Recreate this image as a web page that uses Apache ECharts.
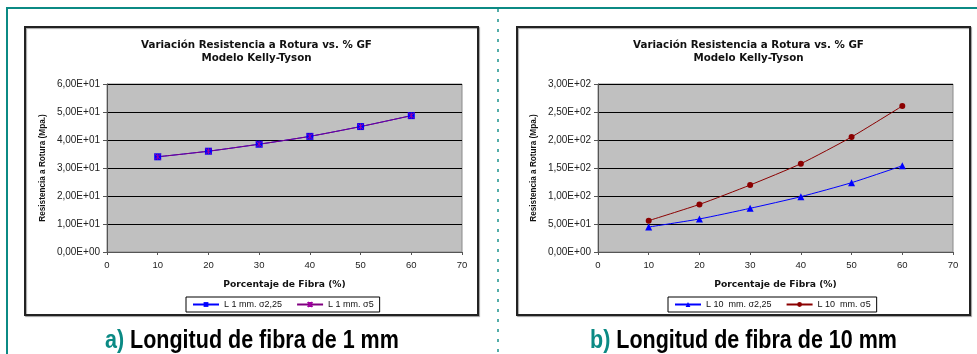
<!DOCTYPE html>
<html><head><meta charset="utf-8">
<script src="https://cdn.jsdelivr.net/npm/echarts@6/dist/echarts.min.js"></script>
<style>html,body{margin:0;padding:0;background:#fff}#c{width:977px;height:354px}</style>
</head><body><div id="c"></div>
<script>
// ---- data ----
const fiberPct = [10, 20, 30, 40, 50, 60];
const L1_s225 = [34.0, 36.0, 38.5, 41.3, 44.8, 48.7];
const L1_s5 = [34.0, 36.0, 38.5, 41.3, 44.8, 48.7];
const L10_s225 = [44.6, 59.0, 78.0, 98.8, 123.8, 154.0];
const L10_s5 = [56.0, 85.0, 119.6, 157.7, 205.4, 260.7];
const seriesNames = ['L 1 mm. σ2,25', 'L 1 mm. σ5', 'L 10  mm. σ2,25', 'L 10  mm. σ5'];
const chartTitle = 'Variación Resistencia a Rotura vs. % GF\nModelo Kelly-Tyson';
const xName = 'Porcentaje de Fibra (%)';
const yName = 'Resistencia a Rotura (Mpa.)';
const captions = [['a)', 'Longitud de fibra de 1 mm'], ['b)', 'Longitud de fibra de 10 mm']];

function sci(v) {
  if (v === 0) return '0,00E+00';
  const e = Math.floor(Math.log10(Math.abs(v)));
  const m = v / Math.pow(10, e);
  const es = (e < 0 ? '-' : '+') + String(Math.abs(e)).padStart(2, '0');
  return m.toFixed(2).replace('.', ',') + 'E' + es;
}
const pair = (arr) => arr.map((v, i) => [fiberPct[i], v]);

const TEAL = '#0b8a84';
const FONT = 'Liberation Sans, Arial, sans-serif';
const panels = [
  { boxX: 25, gridL: 107, yMax: 60, yInt: 10, capX: 105 },
  { boxX: 517, gridL: 598, yMax: 300, yInt: 50, capX: 590 }
];
const BOXW = 453, BOXY = 27, BOXH = 288;

const chart = echarts.init(document.getElementById('c'), null, { renderer: 'canvas' });

const grids = panels.map(p => ({
  left: p.gridL, top: 84, width: 355, height: 168, show: true,
  backgroundColor: '#c0c0c0', borderColor: '#8a8a8a', borderWidth: 1
}));

const xAxes = panels.map((p, i) => ({
  type: 'value', gridIndex: i, min: 0, max: 70, interval: 10,
  name: xName, nameLocation: 'middle', nameGap: 28,
  nameTextStyle: { fontFamily: 'DejaVu Sans', fontWeight: 'bold', fontSize: 9.2, color: '#111' },
  axisLine: { show: true, onZero: false, lineStyle: { color: '#555', width: 1 } },
  axisTick: { show: true, length: 3, lineStyle: { color: '#555' } },
  axisLabel: { fontFamily: FONT, fontSize: 9.5, color: '#222', margin: 8 },
  splitLine: { show: false }
}));

const yAxes = panels.map((p, i) => ({
  type: 'value', gridIndex: i, min: 0, max: p.yMax, interval: p.yInt,
  name: yName, nameLocation: 'middle', nameGap: 60,
  nameTextStyle: { fontFamily: FONT, fontWeight: 'bold', fontSize: 8.2, color: '#111' },
  axisLine: { show: true, lineStyle: { color: '#555', width: 1 } },
  axisTick: { show: true, length: 4, lineStyle: { color: '#555' } },
  axisLabel: { fontFamily: FONT, fontSize: 10, color: '#222', margin: 7, formatter: sci },
  splitLine: { show: true, lineStyle: { color: '#000', width: 1 } }
}));

const asterisk = 'path://M0,0L10,10M10,0L0,10M5,0L5,10';
const series = [
  { name: seriesNames[0], type: 'line', xAxisIndex: 0, yAxisIndex: 0, data: pair(L1_s225), smooth: 0.2,
    symbol: 'rect', symbolSize: 7, lineStyle: { color: '#0000ff', width: 1 }, itemStyle: { color: '#0000ff' } },
  { name: seriesNames[1], type: 'line', xAxisIndex: 0, yAxisIndex: 0, data: pair(L1_s5), smooth: 0.2,
    symbol: asterisk, symbolSize: 6, lineStyle: { color: '#800080', width: 1 },
    itemStyle: { color: '#800080', borderColor: '#a000a0', borderWidth: 1 } },
  { name: seriesNames[2], type: 'line', xAxisIndex: 1, yAxisIndex: 1, data: pair(L10_s225), smooth: 0.2,
    symbol: 'triangle', symbolSize: 7, lineStyle: { color: '#0000ff', width: 1 }, itemStyle: { color: '#0000ff' } },
  { name: seriesNames[3], type: 'line', xAxisIndex: 1, yAxisIndex: 1, data: pair(L10_s5), smooth: 0.2,
    symbol: 'circle', symbolSize: 6, lineStyle: { color: '#8b0000', width: 1 }, itemStyle: { color: '#8b0000' } }
];

const legendCommon = {
  top: 297, orient: 'horizontal', itemWidth: 26, itemHeight: 6, itemGap: 14,
  borderColor: '#000', borderWidth: 1, padding: [3, 6, 3, 6], backgroundColor: '#fff',
  textStyle: { fontFamily: FONT, fontSize: 9, color: '#111' }, selectedMode: false
};

const capFont = 'Liberation Sans, Arial, sans-serif';
const graphic = [
  // teal frame lines
  { type: 'line', shape: { x1: 7, y1: 8, x2: 977, y2: 8 }, style: { stroke: TEAL, lineWidth: 2 } },
  { type: 'line', shape: { x1: 7, y1: 7, x2: 7, y2: 354 }, style: { stroke: TEAL, lineWidth: 2 } },
  { type: 'line', shape: { x1: 498, y1: 9, x2: 498, y2: 354 }, style: { stroke: TEAL, lineWidth: 2, lineDash: [3, 7], opacity: 0.7 } },
  // chart boxes
  ...panels.map(p => ({ type: 'rect', z: -1, shape: { x: p.boxX, y: BOXY, width: BOXW, height: BOXH },
    style: { fill: '#fff', stroke: '#222', lineWidth: 2, shadowColor: 'rgba(0,0,0,0.35)', shadowOffsetX: 1, shadowOffsetY: 1, shadowBlur: 1 } })),
  // captions (condensed bold)
  ...panels.map((p, i) => ({ type: 'text', x: p.capX, y: 329, scaleX: 0.86, originX: 0, originY: 0,
    style: { text: '{a|' + captions[i][0] + '\u00a0}{b|' + captions[i][1] + '}',
      rich: { a: { fill: TEAL, fontFamily: capFont, fontWeight: 'bold', fontSize: 25 },
              b: { fill: '#000', fontFamily: capFont, fontWeight: 'bold', fontSize: 25 } } } }))
];

chart.setOption({
  animation: false,
  backgroundColor: '#fff',
  title: panels.map(p => ({
    text: chartTitle, left: p.boxX + BOXW / 2, top: 34, textAlign: 'center',
    textStyle: { fontFamily: 'DejaVu Sans', fontWeight: 'bold', fontSize: 10.3, color: '#111', lineHeight: 13 }
  })),
  legend: [
    Object.assign({}, legendCommon, { left: 186, data: [seriesNames[0], seriesNames[1]] }),
    Object.assign({}, legendCommon, { left: 668, data: [seriesNames[2], seriesNames[3]] })
  ],
  grid: grids, xAxis: xAxes, yAxis: yAxes, series: series, graphic: graphic
});
</script></body></html>
